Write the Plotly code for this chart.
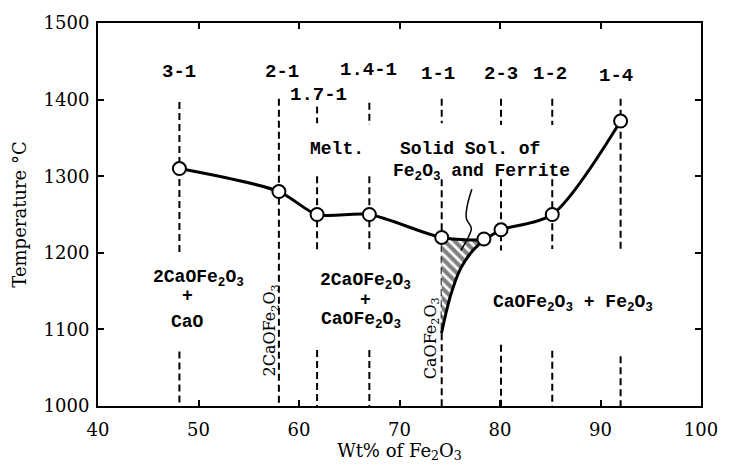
import plotly.graph_objects as go

# ---- data ----
wt_fe2o3 = [48.1, 58.0, 61.8, 67.0, 74.2, 78.4, 80.1, 85.2, 92.0]
temp_c = [1310, 1280, 1250, 1250, 1220, 1218, 1230, 1250, 1372]

ratio_labels = ["3-1", "2-1", "1.7-1", "1.4-1", "1-1", "2-3", "1-2", "1-4"]
ratio_label_x = [48.1, 58.3, 61.9, 66.9, 73.8, 80.1, 85.0, 91.5]
ratio_label_y = [1436, 1436, 1406, 1439, 1433, 1433, 1433, 1431]

dashed_x = [48.1, 58.0, 61.8, 67.0, 74.2, 80.1, 85.2, 92.0]
dashed_segments = [
    [(1397, 1201), (1071, 1000)],
    [(1401, 1000)],
    [(1391, 1369), (1300, 1201), (1073, 1000)],
    [(1396, 1367), (1300, 1201), (1073, 1000)],
    [(1401, 1369), (1296, 1000)],
    [(1401, 1367), (1296, 1203), (1080, 1000)],
    [(1401, 1367), (1296, 1205), (1072, 1000)],
    [(1401, 1205), (1065, 1000)],
]

# solid-solution (hatched) region boundary
ss_x = [74.2, 78.4, 77.3, 76.1, 75.1, 74.18, 74.2]
ss_y = [1220, 1218, 1203, 1180, 1145, 1095, 1220]
ss_edge_x = [78.35, 77.3, 76.1, 75.1, 74.18]
ss_edge_y = [1216, 1203, 1180, 1145, 1095]

# squiggly leader line
lead_x = [77.2, 76.75, 76.65, 77.15, 76.9, 76.1]
lead_y = [1283, 1262, 1245, 1232, 1222, 1203]

MONO = "Liberation Mono"
SERIF = "DejaVu Serif"

fig = go.Figure()

# dashed verticals
vx, vy = [], []
for x, segs in zip(dashed_x, dashed_segments):
    for (y0, y1) in segs:
        vx += [x, x, None]
        vy += [y0, y1, None]
fig.add_trace(go.Scatter(x=vx, y=vy, mode="lines",
                         line=dict(color="black", width=2, dash="7px,4px"),
                         hoverinfo="skip", showlegend=False))

# hatched region
fig.add_trace(go.Scatter(x=ss_x, y=ss_y, mode="lines", fill="toself",
                         fillcolor="white", line=dict(width=0, color="black"),
                         fillpattern=dict(shape="\\", fgcolor="black", bgcolor="white",
                                          size=7, solidity=0.6),
                         hoverinfo="skip", showlegend=False))
fig.add_trace(go.Scatter(x=ss_edge_x, y=ss_edge_y, mode="lines",
                         line=dict(color="black", width=3, shape="spline"),
                         hoverinfo="skip", showlegend=False))

# leader squiggle
fig.add_trace(go.Scatter(x=lead_x, y=lead_y, mode="lines",
                         line=dict(color="black", width=1.5, shape="spline"),
                         hoverinfo="skip", showlegend=False))

# liquidus curve
fig.add_trace(go.Scatter(x=wt_fe2o3, y=temp_c, mode="lines+markers",
                         line=dict(color="black", width=3, shape="spline", smoothing=0.8),
                         marker=dict(size=13, color="white", line=dict(color="black", width=2)),
                         showlegend=False))

annots = []
for t, x, y in zip(ratio_labels, ratio_label_x, ratio_label_y):
    annots.append(dict(x=x, y=y, text=t, font=dict(family=MONO, size=19, color="black",
                                                    weight="bold")))

F = "Fe<sub>2</sub>O<sub>3</sub>"
texts = [
    ("Melt.", 63.8, 1335),
    ("Solid Sol. of", 77.0, 1335),
    (F + " and Ferrite", 78.15, 1305),
    ("2CaO" + F, 50.0, 1166),
    ("+", 48.9, 1143),
    ("CaO", 48.9, 1110),
    ("2CaO" + F, 66.6, 1162),
    ("+", 66.6, 1138),
    ("CaO" + F, 66.2, 1112),
    ("CaO" + F + " + " + F, 87.25, 1134),
]
for t, x, y in texts:
    annots.append(dict(x=x, y=y, text=t, font=dict(family=MONO, size=18, color="black",
                                                    weight="bold")))

annots.append(dict(x=57.15, y=1099, text="2CaO" + F, textangle=-90,
                   font=dict(family=SERIF, size=16, color="black")))
annots.append(dict(x=73.2, y=1088, text="CaO" + F, textangle=-90,
                   font=dict(family=SERIF, size=16, color="black")))

for a in annots:
    a.update(xref="x", yref="y", showarrow=False)

axis_common = dict(showline=True, linecolor="black", linewidth=2, mirror="ticks",
                   ticks="inside", ticklen=6, tickwidth=2, tickcolor="black",
                   showgrid=False, zeroline=False,
                   tickfont=dict(family=SERIF, size=18, color="black"))

fig.update_layout(
    width=730, height=468,
    margin=dict(l=98, r=18, t=23, b=60),
    paper_bgcolor="white", plot_bgcolor="white",
    annotations=annots,
    xaxis=dict(range=[40, 100], dtick=10, tick0=40, ticklabelstandoff=6,
               title=dict(text="Wt% of Fe<sub>2</sub>O<sub>3</sub>", standoff=4,
                          font=dict(family=SERIF, size=18, color="black")),
               **axis_common),
    yaxis=dict(range=[1000, 1500], dtick=100, tick0=1000, ticklabelstandoff=3,
               title=dict(text="Temperature °C", standoff=12,
                          font=dict(family=SERIF, size=18, color="black")),
               **axis_common),
)

fig.write_html("out.html")
